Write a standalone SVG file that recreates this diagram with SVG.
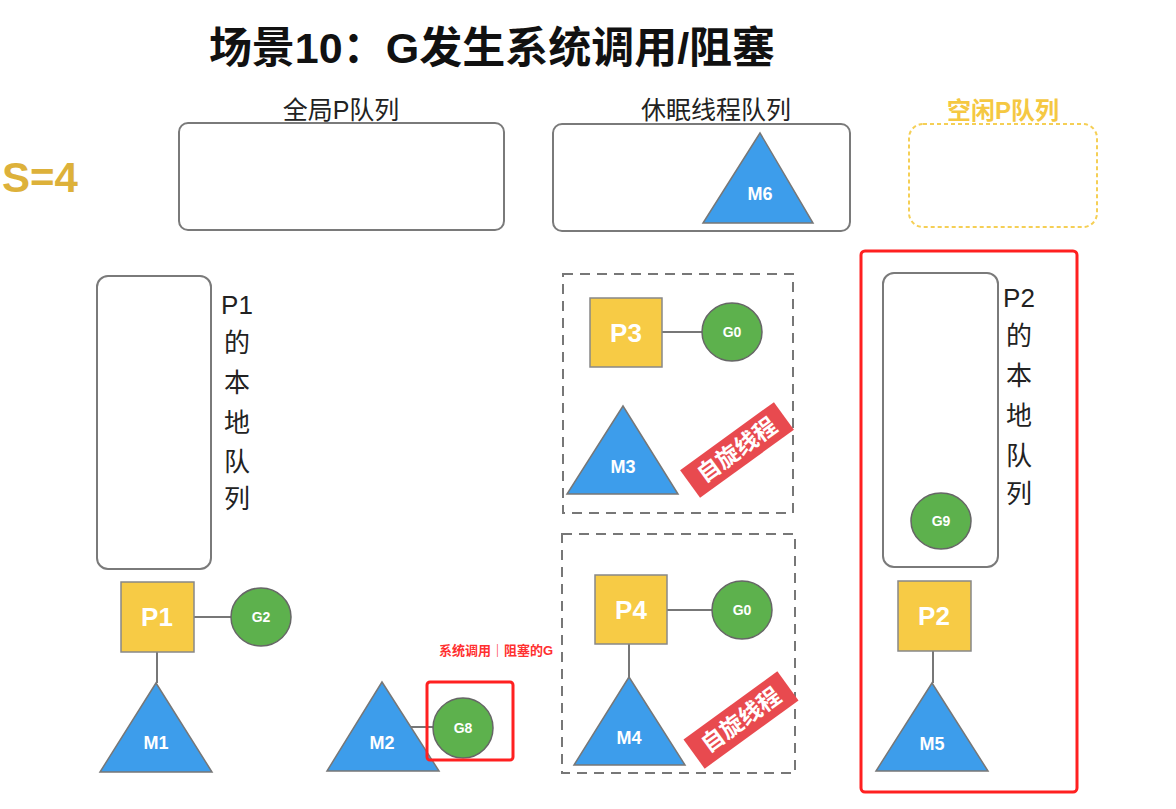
<svg xmlns="http://www.w3.org/2000/svg" width="1176" height="809" viewBox="0 0 1176 809">
<style>
text{font-family:"Liberation Sans","Noto Sans CJK SC",sans-serif}
.q{fill:#fff;stroke:#7a7a7a;stroke-width:2}
.p{fill:#F7CB45;stroke:#888;stroke-width:1.5}
.g{fill:#5DB14D;stroke:#666;stroke-width:1.5}
.m{fill:#3D9DEB;stroke:#777;stroke-width:1.5}
.pt{fill:#fff;font-weight:bold;font-size:26px;text-anchor:middle}
.gt{fill:#fff;font-weight:bold;font-size:14px;text-anchor:middle}
.mt{fill:#fff;font-weight:bold;font-size:18px;text-anchor:middle}
.lbl{fill:#222;font-size:25px;text-anchor:middle}
.vl{fill:#222;font-size:26px;text-anchor:middle}
.dash{fill:none;stroke:#777;stroke-width:2;stroke-dasharray:10 7}
.spin{fill:#E84A4F}
.st{fill:#fff;font-weight:bold;font-size:23px;text-anchor:middle}
.conn line{stroke:#777;stroke-width:2}
</style>
<rect width="1176" height="809" fill="#fff"/>
<text x="492" y="63" font-size="43" font-weight="bold" text-anchor="middle" fill="#111">场景10：G发生系统调用/阻塞</text>
<text x="40" y="192" font-size="42" font-weight="bold" text-anchor="middle" fill="#DDB13A">S=4</text>

<g id="global-queue">
<rect class="q" x="179" y="123" width="325" height="107" rx="9"/>
<text class="lbl" x="341" y="119">全局P队列</text>
</g>
<g id="sleep-queue">
<rect class="q" x="553" y="124" width="297" height="107" rx="9"/>
<text class="lbl" x="716" y="119">休眠线程队列</text>
</g>
<g id="M6">
<polygon class="m" points="760,133 703,223 813,223"/>
<text class="mt" x="760" y="200">M6</text>
</g>
<g id="idle-queue">
<rect x="909" y="124" width="188" height="103" rx="14" fill="none" stroke="#F5CF55" stroke-width="2" stroke-dasharray="4 3"/>
<text x="1003" y="119" font-size="24" font-weight="bold" text-anchor="middle" fill="#F5C842">空闲P队列</text>
</g>

<g class="conn" id="connectors">
<line x1="194" y1="617" x2="231" y2="617"/>
<line x1="157" y1="652" x2="157" y2="683"/>
<line x1="382" y1="727" x2="434" y2="727"/>
<line x1="662" y1="332" x2="703" y2="332"/>
<line x1="667" y1="610" x2="712" y2="610"/>
<line x1="629" y1="644" x2="629" y2="677"/>
<line x1="933" y1="651" x2="933" y2="683"/>
</g>

<g id="P1-local-queue">
<rect class="q" x="97" y="276" width="114" height="293" rx="11"/>
<text class="vl" x="237" y="314">P1</text>
<text class="vl" x="237" y="352">的</text>
<text class="vl" x="237" y="392">本</text>
<text class="vl" x="237" y="432">地</text>
<text class="vl" x="237" y="471">队</text>
<text class="vl" x="237" y="508">列</text>
</g>
<g id="P1">
<rect class="p" x="121" y="582" width="73" height="70"/>
<text class="pt" x="157" y="626">P1</text>
</g>
<g id="G2">
<ellipse class="g" cx="261" cy="617" rx="30" ry="29"/>
<text class="gt" x="261" y="622">G2</text>
</g>
<g id="M1">
<polygon class="m" points="156,683 100,772 212,772"/>
<text class="mt" x="156" y="749">M1</text>
</g>

<g id="M2">
<polygon class="m" points="382,682 327,771 439,771"/>
<text class="mt" x="382" y="749">M2</text>
</g>
<g id="G8">
<ellipse class="g" cx="463" cy="728" rx="30" ry="30"/>
<text class="gt" x="463" y="733">G8</text>
</g>
<g id="G8-highlight">
<rect x="427" y="682" width="86" height="78" rx="3" fill="none" stroke="#FF2020" stroke-width="3"/>
<text x="496" y="655" font-size="13" font-weight="bold" text-anchor="middle" fill="#FF3030">系统调用｜阻塞的G</text>
</g>

<g id="spin-group-1">
<rect class="dash" x="563" y="274" width="230" height="239"/>
</g>
<g id="P3">
<rect class="p" x="590" y="298" width="72" height="69"/>
<text class="pt" x="626" y="342">P3</text>
</g>
<g id="G0-a">
<ellipse class="g" cx="732" cy="332" rx="30" ry="29"/>
<text class="gt" x="732" y="337">G0</text>
</g>
<g id="M3">
<polygon class="m" points="623,406 567,494 678,494"/>
<text class="mt" x="623" y="473">M3</text>
</g>
<g id="spin-label-1" transform="translate(737,450) rotate(-36)">
<rect class="spin" x="-58" y="-17" width="116" height="34"/>
<text class="st" x="0" y="8">自旋线程</text>
</g>

<g id="spin-group-2">
<rect class="dash" x="562" y="534" width="233" height="239"/>
</g>
<g id="P4">
<rect class="p" x="595" y="575" width="72" height="69"/>
<text class="pt" x="631" y="619">P4</text>
</g>
<g id="G0-b">
<ellipse class="g" cx="742" cy="610" rx="30" ry="29"/>
<text class="gt" x="742" y="615">G0</text>
</g>
<g id="M4">
<polygon class="m" points="629,677 574,765 685,765"/>
<text class="mt" x="629" y="744">M4</text>
</g>
<g id="spin-label-2" transform="translate(741,720) rotate(-36)">
<rect class="spin" x="-58" y="-18" width="116" height="36"/>
<text class="st" x="0" y="8">自旋线程</text>
</g>

<g id="P2-highlight">
<rect x="861" y="251" width="216" height="541" rx="4" fill="none" stroke="#FF2020" stroke-width="3"/>
</g>
<g id="P2-local-queue">
<rect class="q" x="883" y="273" width="115" height="294" rx="11"/>
<text class="vl" x="1019" y="307">P2</text>
<text class="vl" x="1019" y="345">的</text>
<text class="vl" x="1019" y="385">本</text>
<text class="vl" x="1019" y="425">地</text>
<text class="vl" x="1019" y="465">队</text>
<text class="vl" x="1019" y="503">列</text>
</g>
<g id="G9">
<ellipse class="g" cx="941" cy="521" rx="30" ry="28"/>
<text class="gt" x="941" y="526">G9</text>
</g>
<g id="P2">
<rect class="p" x="898" y="581" width="73" height="70"/>
<text class="pt" x="934" y="625">P2</text>
</g>
<g id="M5">
<polygon class="m" points="932,683 876,771 988,771"/>
<text class="mt" x="932" y="750">M5</text>
</g>
</svg>
